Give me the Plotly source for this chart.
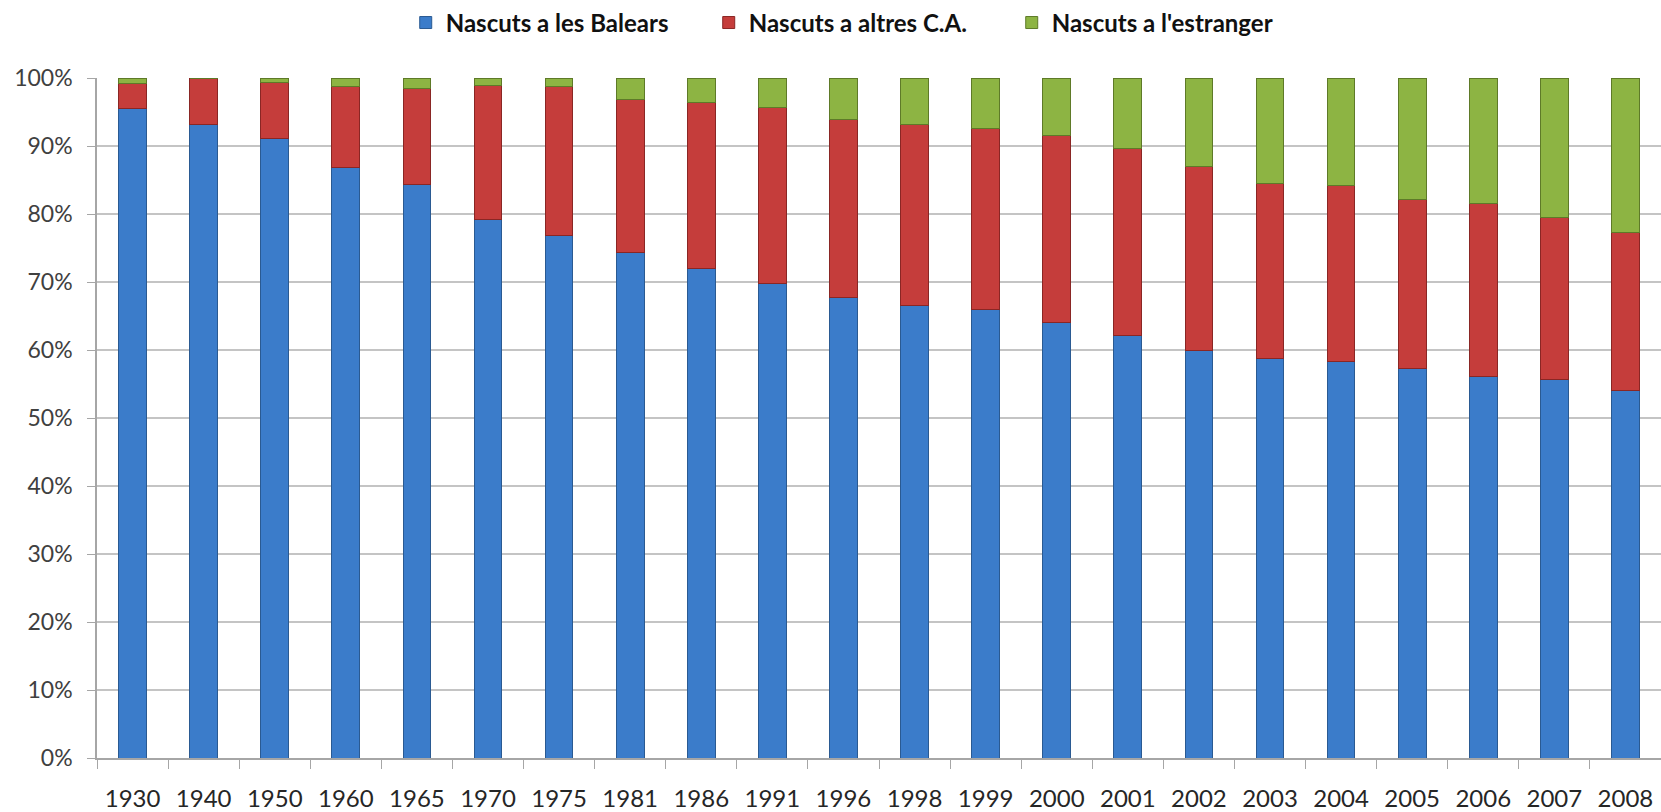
import plotly.graph_objects as go

years = ["1930", "1940", "1950", "1960", "1965", "1970", "1975", "1981", "1986", "1991", "1996",
         "1998", "1999", "2000", "2001", "2002", "2003", "2004", "2005", "2006", "2007", "2008"]
balears = [95.5, 93.2, 91.1, 86.9, 84.4, 79.2, 76.9, 74.3, 72.0, 69.8, 67.7,
           66.5, 65.9, 64.0, 62.2, 60.0, 58.7, 58.3, 57.3, 56.1, 55.6, 54.0]
altres_top = [99.2, 100.0, 99.3, 98.8, 98.4, 98.9, 98.8, 96.8, 96.4, 95.7, 93.9,
              93.2, 92.6, 91.5, 89.6, 87.0, 84.5, 84.2, 82.2, 81.5, 79.5, 77.3]
altres = [round(t - b, 1) for t, b in zip(altres_top, balears)]
estranger = [round(100 - t, 1) for t in altres_top]

names = ["Nascuts a les Balears", "Nascuts a altres C.A.", "Nascuts a l'estranger"]
colors = ["#3B7CCA", "#C53D3B", "#8DB443"]
lines = ["#2A5A92", "#8A2624", "#5E7A28"]
y_ticks = [0, 10, 20, 30, 40, 50, 60, 70, 80, 90, 100]
y_labels = [f"{v}%" for v in y_ticks]

FONT = "Lato, Open Sans, Arial"

fig = go.Figure()
for name, vals, c, lc in zip(names, [balears, altres, estranger], colors, lines):
    fig.add_trace(go.Bar(
        x=years, y=vals, name=name,
        marker=dict(color=c, line=dict(color=lc, width=1)),
        width=0.39,
    ))

fig.update_layout(
    barmode="stack",
    width=1661, height=812,
    margin=dict(l=97, r=0, t=78, b=54),
    plot_bgcolor="white", paper_bgcolor="white",
    font=dict(family=FONT, size=21, color="#404040"),
    showlegend=True,
    legend=dict(orientation="h", x=0.488, xanchor="center", y=1.081, yanchor="middle",
                font=dict(family=FONT, size=24, color="#111111", weight="bold"),
                traceorder="normal", itemwidth=30,
                entrywidth=258, entrywidthmode="pixels"),
    xaxis=dict(type="category", range=[-0.5, 21.5], showgrid=False, automargin=False,
               showline=True, linecolor="#A6A6A6", linewidth=1.5,
               ticks="outside", tickson="boundaries", ticklen=9, tickcolor="#A6A6A6",
               ticklabelstandoff=18,
               tickfont=dict(family=FONT, size=24, color="#262626")),
    yaxis=dict(range=[0, 100], tickvals=y_ticks, ticktext=y_labels, automargin=False,
               showgrid=True, gridcolor="#C4C4C4", gridwidth=1.5,
               showline=True, linecolor="#A6A6A6", linewidth=1.5,
               ticks="outside", ticklen=8, tickcolor="#A6A6A6",
               ticklabelstandoff=10,
               tickfont=dict(family=FONT, size=23, color="#404040"),
               zeroline=False),
)

fig.write_html("out.html", config={"displayModeBar": False},
               post_script="document.body.style.margin='0';document.body.style.overflow='hidden';")
